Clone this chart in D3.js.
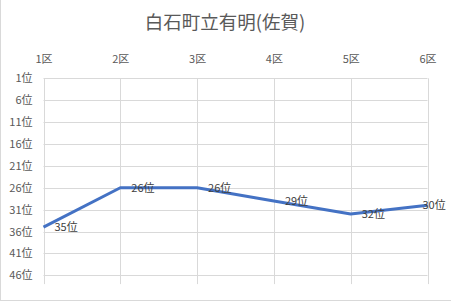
<!DOCTYPE html>
<html><head><meta charset="utf-8">
<script src="https://cdn.jsdelivr.net/npm/d3@7"></script>
<style>body{margin:0;background:#fff}svg{display:block}</style>
</head><body>
<script>
const title = "白石町立有明(佐賀)";
const categories = ["1区","2区","3区","4区","5区","6区"];
const ranks = [35, 26, 26, 29, 32, 30];
const yTicks = [1, 6, 11, 16, 21, 26, 31, 36, 41, 46];
const yDomain = [1, 48];

const W = 451, H = 302;
const svg = d3.select("body").append("svg").attr("width", W).attr("height", H);
const font = "'Noto Sans CJK JP','Noto Sans',sans-serif";

svg.append("rect").attr("x", 0.5).attr("y", -2).attr("width", W + 2).attr("height", 302.5)
  .attr("fill", "#fff").attr("stroke", "#d9d9d9");

const x = d3.scalePoint().domain(categories).range([43.5, 427.5]);
const y = d3.scaleLinear().domain(yDomain).range([78.3, 284.1]);

svg.append("text").attr("x", 225).attr("y", 29).attr("text-anchor", "middle")
  .attr("font-family", font).attr("font-size", 18.5).attr("fill", "#595959").text(title);

// horizontal grid
svg.append("g").selectAll("line").data(yTicks).join("line")
  .attr("x1", 43.5).attr("x2", 427.5)
  .attr("y1", d => Math.round(y(d)) + 0.5).attr("y2", d => Math.round(y(d)) + 0.5)
  .attr("stroke", "#d9d9d9");
// vertical grid
svg.append("g").selectAll("line").data(categories).join("line")
  .attr("x1", d => Math.round(x(d)) + 0.5).attr("x2", d => Math.round(x(d)) + 0.5)
  .attr("y1", y(yDomain[0])).attr("y2", y(yDomain[1]))
  .attr("stroke", "#d9d9d9");

// top axis labels
const xAxis = d3.axisTop(x).tickSize(0).tickPadding(0);
const gx = svg.append("g").attr("transform", "translate(0,63)").call(xAxis);
gx.select(".domain").remove();
gx.selectAll("text").attr("font-family", font).attr("font-size", 11).attr("fill", "#595959");

// left axis labels
const yAxis = d3.axisLeft(y).tickValues(yTicks).tickSize(0).tickPadding(0).tickFormat(d => d + "位");
const gy = svg.append("g").attr("transform", "translate(32.5,0)").call(yAxis);
gy.select(".domain").remove();
gy.selectAll("text").attr("font-family", font).attr("font-size", 11).attr("fill", "#595959");

// line
const line = d3.line().x((d, i) => x(categories[i])).y(d => y(d));
svg.append("path").datum(ranks).attr("d", line).attr("fill", "none")
  .attr("stroke", "#4472C4").attr("stroke-width", 3).attr("stroke-linejoin", "round");

// data labels
svg.append("g").selectAll("text").data(ranks).join("text")
  .attr("x", (d, i) => i === ranks.length - 1 ? x(categories[i]) - 5 : x(categories[i]) + 11)
  .attr("y", d => y(d)).attr("dy", "0.35em")
  .attr("font-family", font).attr("font-size", 11).attr("fill", "#404040")
  .text(d => d + "位");
</script>
</body></html>
